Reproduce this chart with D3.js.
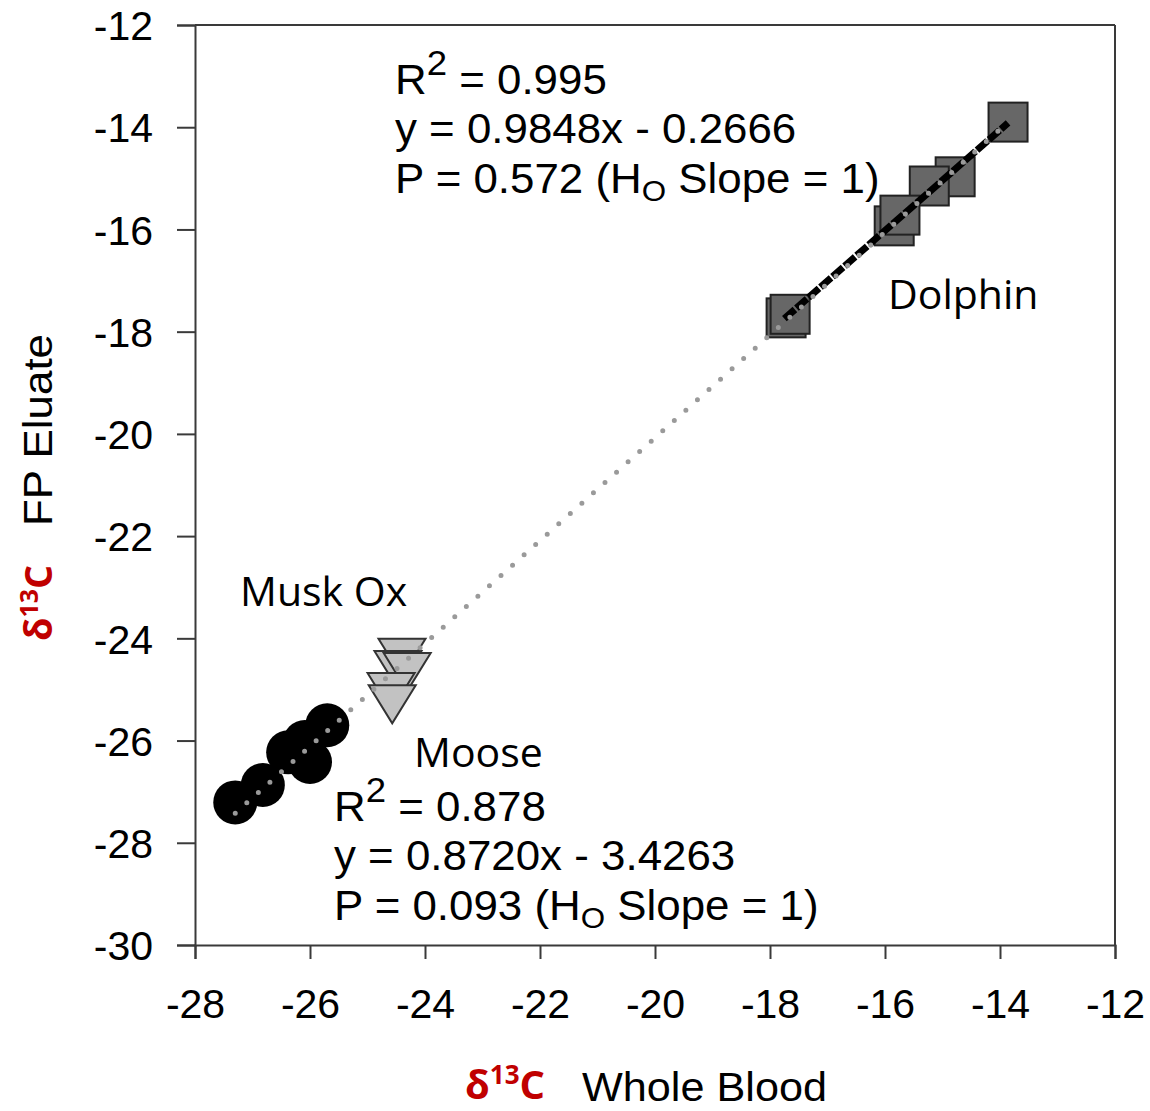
<!DOCTYPE html>
<html>
<head>
<meta charset="utf-8">
<script src="https://cdn.jsdelivr.net/npm/d3@7"></script>
<style>
  body { margin: 0; background: #fff; }
  text { font-family: "Liberation Sans", Arial, sans-serif; }
</style>
</head>
<body>
<script>
// Axis ticks
var xTicks = [-28, -26, -24, -22, -20, -18, -16, -14, -12];
var yTicks = [-30, -28, -26, -24, -22, -20, -18, -16, -14, -12];

// Dolphin (squares)
var dolphinX = [-13.86, -14.78, -15.23, -15.84, -15.74, -17.72, -17.65];
var dolphinY = [-13.90, -14.97, -15.15, -15.93, -15.72, -17.73, -17.66];

// Musk Ox (circles)
var muskX = [-27.30, -26.82, -26.38, -26.09, -26.00, -25.70];
var muskY = [-27.21, -26.87, -26.23, -26.03, -26.42, -25.70];

// Moose (triangles)
var mooseX = [-24.40, -24.47, -24.31, -24.59, -24.57];
var mooseY = [-24.38, -24.62, -24.66, -25.05, -25.29];

// Fit lines
var dolphinFit = [0.9848, -0.2666];
var dolphinFitRange = [-17.75, -13.86];
var grayLineX = [-27.30, -13.86];
var grayLineY = [-27.42, -13.90];

var width = 1150, height = 1111;
var svg = d3.select("body").append("svg")
    .attr("width", width)
    .attr("height", height);

var xScale = d3.scaleLinear().domain([-28, -12]).range([195, 1115]);
var yScale = d3.scaleLinear().domain([-30, -12]).range([945, 25]);

var axisColor = "#3a3a3a";

// frame (top and right)
svg.append("line")
    .attr("x1", xScale(-28)).attr("x2", xScale(-12))
    .attr("y1", yScale(-12)).attr("y2", yScale(-12))
    .attr("stroke", axisColor).attr("stroke-width", 2);
svg.append("line")
    .attr("x1", xScale(-12)).attr("x2", xScale(-12))
    .attr("y1", yScale(-12)).attr("y2", yScale(-30))
    .attr("stroke", axisColor).attr("stroke-width", 2);

// x axis
var xAxis = d3.axisBottom(xScale).tickValues(xTicks).tickSize(14).tickPadding(30)
    .tickFormat(function (d) { return d; });
var gx = svg.append("g")
    .attr("transform", "translate(0," + yScale(-30) + ")")
    .call(xAxis);
gx.select(".domain").attr("stroke", axisColor).attr("stroke-width", 2);
gx.selectAll(".tick line").attr("stroke", axisColor).attr("stroke-width", 2);
gx.selectAll(".tick text")
    .attr("fill", "#000")
    .style("font-size", "41px")
    .style("font-family", "Liberation Sans, Arial, sans-serif");

// y axis
var yAxis = d3.axisLeft(yScale).tickValues(yTicks).tickSize(18).tickPadding(24)
    .tickFormat(function (d) { return d; });
var gy = svg.append("g")
    .attr("transform", "translate(" + xScale(-28) + ",0)")
    .call(yAxis);
gy.select(".domain").attr("stroke", axisColor).attr("stroke-width", 2);
gy.selectAll(".tick line").attr("stroke", axisColor).attr("stroke-width", 2);
gy.selectAll(".tick text")
    .attr("fill", "#000")
    .attr("dy", "0.36em")
    .style("font-size", "41px")
    .style("font-family", "Liberation Sans, Arial, sans-serif");

// Dolphin squares
var sq = 39;
dolphinX.forEach(function (x, i) {
    svg.append("rect")
        .attr("x", xScale(x) - sq / 2)
        .attr("y", yScale(dolphinY[i]) - sq / 2)
        .attr("width", sq).attr("height", sq)
        .attr("fill", "#676767")
        .attr("stroke", "#222")
        .attr("stroke-width", 2);
});

// Dolphin fit (black dashed)
svg.append("line")
    .attr("x1", xScale(dolphinFitRange[0]))
    .attr("y1", yScale(dolphinFit[0] * dolphinFitRange[0] + dolphinFit[1]))
    .attr("x2", xScale(dolphinFitRange[1]))
    .attr("y2", yScale(dolphinFit[0] * dolphinFitRange[1] + dolphinFit[1]))
    .attr("stroke", "#000")
    .attr("stroke-width", 7)
    .attr("stroke-dasharray", "14 2");

// Moose triangles (pointing down)
var triW = 47, triH = 38;
mooseX.forEach(function (x, i) {
    var cx = xScale(x), cy = yScale(mooseY[i]);
    svg.append("path")
        .attr("d", "M" + (cx - triW / 2) + "," + (cy - triH / 2) +
            "L" + (cx + triW / 2) + "," + (cy - triH / 2) +
            "L" + cx + "," + (cy + triH / 2) + "Z")
        .attr("fill", "#c2c2c2")
        .attr("stroke", "#333")
        .attr("stroke-width", 2)
        .attr("stroke-linejoin", "miter");
});

// Musk ox circles
muskX.forEach(function (x, i) {
    svg.append("circle")
        .attr("cx", xScale(x))
        .attr("cy", yScale(muskY[i]))
        .attr("r", 22)
        .attr("fill", "#000");
});

// Gray dotted line over everything
svg.append("line")
    .attr("x1", xScale(grayLineX[0])).attr("y1", yScale(grayLineY[0]))
    .attr("x2", xScale(grayLineX[1])).attr("y2", yScale(grayLineY[1]))
    .attr("stroke", "#9a9a9a")
    .attr("stroke-width", 5)
    .attr("stroke-linecap", "round")
    .attr("stroke-dasharray", "0 15.5");

// Regression annotations
function statBlock(x, y0, r2, eq, p) {
    var lh = 49.5;
    var g = svg.append("g").attr("transform", "translate(" + x + "," + y0 + ") scale(1.045,1)");
    var t1 = g.append("text").attr("x", 0).attr("y", 0).style("font-size", "42px");
    t1.append("tspan").text("R");
    t1.append("tspan").attr("dy", -19).style("font-size", "35px").text("2");
    t1.append("tspan").attr("dy", 19).text(" = " + r2);
    g.append("text").attr("x", 0).attr("y", lh).style("font-size", "42px").text(eq);
    var t3 = g.append("text").attr("x", 0).attr("y", 2 * lh).style("font-size", "42px");
    t3.append("tspan").text("P = " + p + " (H");
    t3.append("tspan").attr("dy", 8).style("font-size", "30px").text("O");
    t3.append("tspan").attr("dy", -8).text(" Slope = 1)");
}
statBlock(395, 94, "0.995", "y = 0.9848x - 0.2666", "0.572");
statBlock(334, 821, "0.878", "y = 0.8720x - 3.4263", "0.093");

// Species labels
var labelFont = "'Open Sans', 'Noto Sans', sans-serif";
svg.append("text").attr("x", 888).attr("y", 309)
    .style("font-family", labelFont).style("font-size", "41px").text("Dolphin");
svg.append("text").attr("x", 240).attr("y", 606)
    .style("font-family", labelFont).style("font-size", "41px").text("Musk Ox");
svg.append("text").attr("x", 414).attr("y", 767)
    .style("font-family", labelFont).style("font-size", "41px").text("Moose");

// Axis titles
var red = "#c00000";
var xt = svg.append("text").attr("x", 465).attr("y", 1099)
    .style("font-family", labelFont).style("font-weight", "bold")
    .style("font-size", "40px").attr("fill", red);
xt.append("tspan").text("δ");
xt.append("tspan").attr("dy", -15).style("font-size", "26px").text("13");
xt.append("tspan").attr("dy", 15).text("C");
svg.append("text").attr("x", 582).attr("y", 1101)
    .style("font-size", "40px")
    .attr("textLength", 245).attr("lengthAdjust", "spacingAndGlyphs")
    .text("Whole Blood");

var yt = svg.append("text")
    .attr("transform", "translate(52,641) rotate(-90)")
    .style("font-family", labelFont).style("font-weight", "bold")
    .style("font-size", "38px").attr("fill", red);
yt.append("tspan").text("δ");
yt.append("tspan").attr("dy", -14).style("font-size", "25px").text("13");
yt.append("tspan").attr("dy", 14).text("C");
svg.append("text")
    .attr("transform", "translate(52,526) rotate(-90)")
    .style("font-size", "40px")
    .attr("textLength", 192).attr("lengthAdjust", "spacingAndGlyphs")
    .text("FP Eluate");
</script>
</body>
</html>
